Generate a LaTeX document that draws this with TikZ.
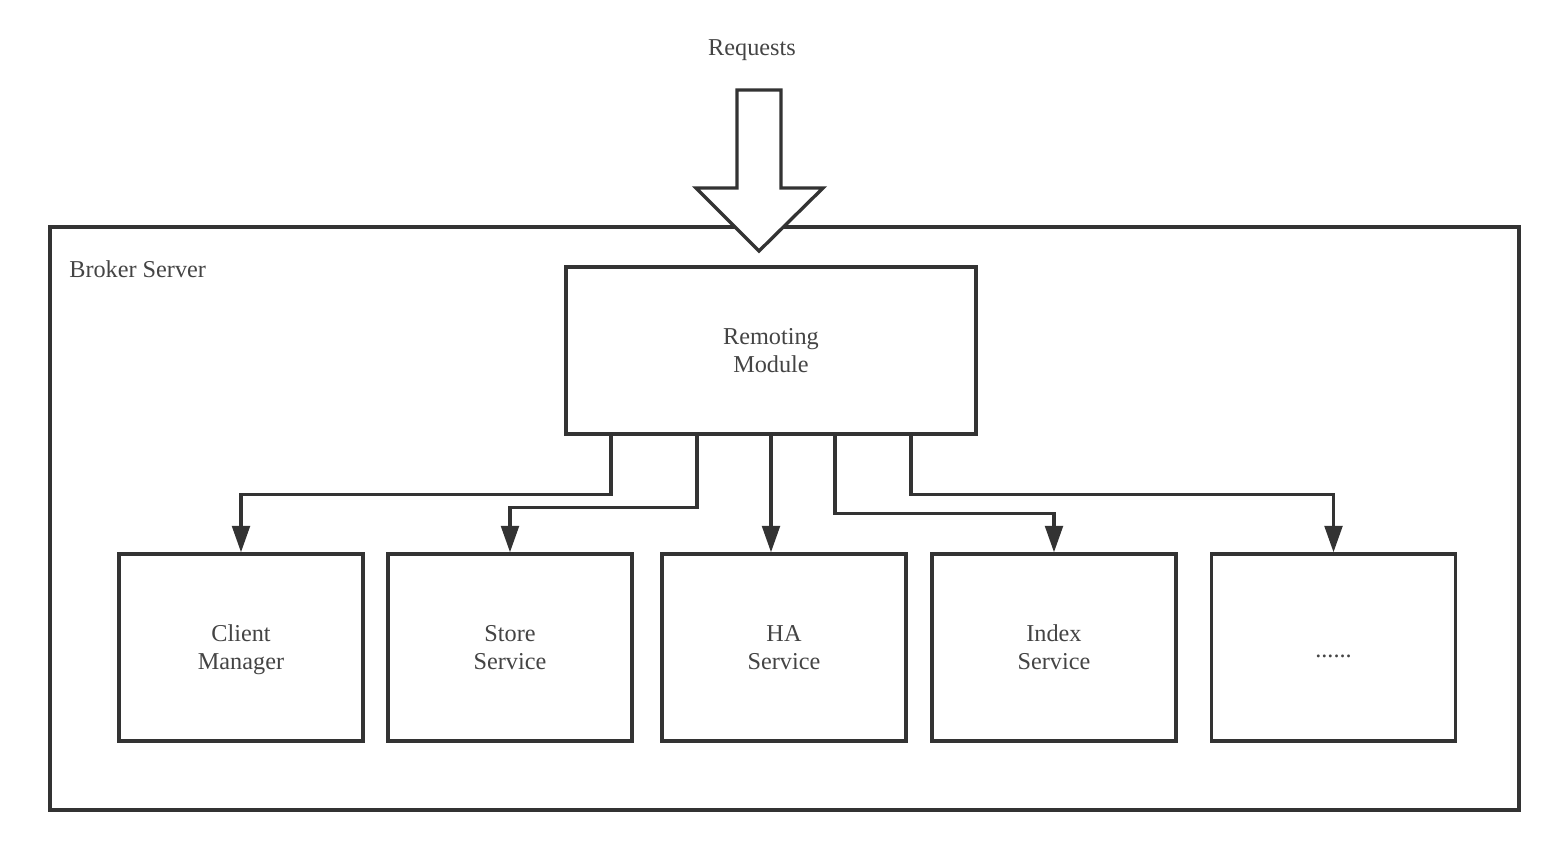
\documentclass[tikz,border=0pt]{standalone}
\usepackage{fontspec}
\setmainfont{Liberation Serif}
\usepackage{tikz}
\usetikzlibrary{arrows.meta}

\definecolor{lineGrey}{HTML}{333333}
\definecolor{textGrey}{HTML}{444444}

\tikzset{
  box/.style={draw=lineGrey, line width=1.9pt, fill=white, align=center,
    text=textGrey, font=\fontsize{13.8}{16}\selectfont, inner sep=0pt,
    text height=29.7pt, text depth=4.8pt},
  conn/.style={draw=lineGrey, line width=1.9pt,
    -{Triangle[length=15pt, width=10pt]}},
  label/.style={text=textGrey, font=\fontsize{13.8}{16}\selectfont, inner sep=0pt}
}

\begin{document}
\begin{tikzpicture}[x=0.02cm, y=-0.02cm]
        \useasboundingbox (0,0) rectangle (1549,840);

        % Broker server frame
        \draw[lineGrey, line width=1.8pt] (50,227) rectangle (1519,810);
        \node[label, anchor=west] (broker) at (69,269) {Broker Server};

        % Incoming requests
        \node[label] (requests) at (752,50) {Requests};
        \draw[lineGrey, line width=1.9pt, fill=white, line join=miter]
            (737,90) -- (781,90) -- (781,188) -- (823,188) -- (759,251)
            -- (696,188) -- (737,188) -- cycle;

        % Remoting module
        \node[box, minimum width=8.2cm, minimum height=3.34cm] (remoting) at (771,350.5) {Remoting\\Module};

        % Service boxes
        \pgfmathsetmacro{\boxW}{244*0.02}
        \pgfmathsetmacro{\boxH}{187*0.02}
        \node[box, minimum width=\boxW cm, minimum height=\boxH cm] (client) at (241,647.5) {Client\\Manager};
        \node[box, minimum width=\boxW cm, minimum height=\boxH cm] (store) at (510,647.5) {Store\\Service};
        \node[box, minimum width=\boxW cm, minimum height=\boxH cm] (ha) at (784,647.5) {HA\\Service};
        \node[box, minimum width=\boxW cm, minimum height=\boxH cm] (index) at (1054,647.5) {Index\\Service};
        \node[box, minimum width=\boxW cm, minimum height=\boxH cm, text height=15.7pt] (more) at (1333.5,647.5) {......};

        % Connectors from the remoting module
        \draw[conn] (remoting.south -| 611,0) -- ++(0,59) -| (client.north);
        \draw[conn] (remoting.south -| 697,0) -- ++(0,72) -| (store.north);
        \draw[conn] (remoting.south) -- (remoting.south |- ha.north);
        \draw[conn] (remoting.south -| 835,0) -- ++(0,78) -| (index.north);
        \draw[conn] (remoting.south -| 911,0) -- ++(0,59) -| (more.north);
    \end{tikzpicture}
\end{document}
